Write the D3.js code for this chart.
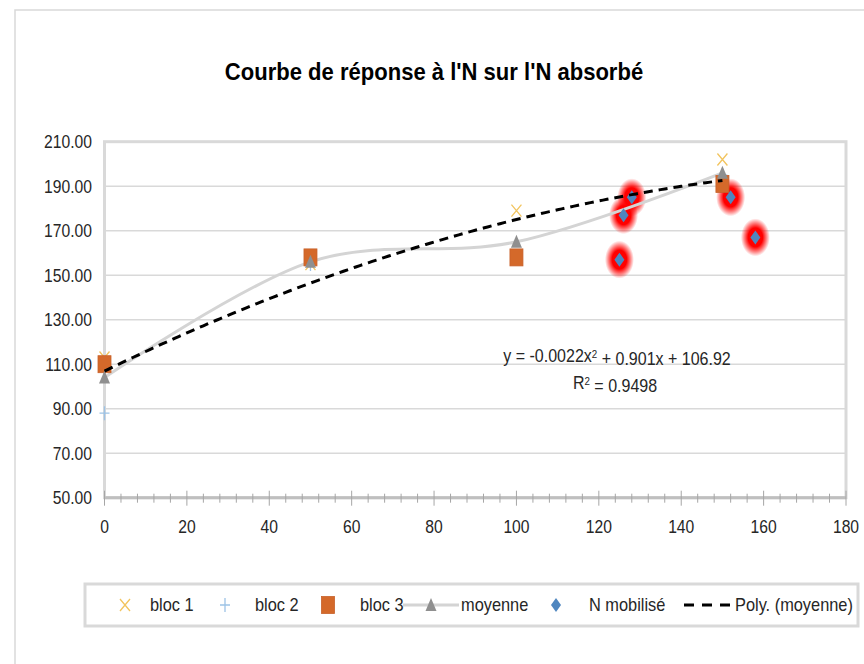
<!DOCTYPE html>
<html><head><meta charset="utf-8">
<script src="https://cdn.jsdelivr.net/npm/d3@7"></script>
<style>
html,body{margin:0;padding:0;background:#fff;}
svg{display:block;}
text{font-family:"Liberation Sans",Arial,sans-serif;fill:#262626;}
</style></head>
<body><svg id="chart" width="864" height="664"></svg>
<script>
// ---- data ----
const doses = [0, 50, 100, 150];
const bloc1 = [113, 155, 179, 202];
const bloc2 = [88, 155, 158, 195];
const bloc3 = [110, 158, 158, 191];
const moyenne = [104, 156, 165, 196];
const nMobX = [125, 126, 128, 152, 158];
const nMobY = [157, 177, 185, 185, 167];
const polyCoef = [-0.0022, 0.901, 106.92];
const yTicks = [50, 70, 90, 110, 130, 150, 170, 190, 210];
const xTicks = [0, 20, 40, 60, 80, 100, 120, 140, 160, 180];
const title = "Courbe de réponse à l'N sur l'N absorbé";
const legendLabels = ["bloc 1", "bloc 2", "bloc 3", "moyenne", "N mobilisé", "Poly. (moyenne)"];

const svg = d3.select("#chart");
const x = d3.scaleLinear().domain([0, 180]).range([104.5, 846]);
const y = d3.scaleLinear().domain([50, 210]).range([497.7, 141.7]);

function txt(g, tx, ty, str, size, anchor, sx) {
  return g.append("text").attr("transform", `translate(${tx},${ty}) scale(${sx},1)`)
    .attr("text-anchor", anchor).attr("dy", "0.35em").style("font-size", size + "px").text(str);
}

// defs
const defs = svg.append("defs");
const rg = defs.append("radialGradient").attr("id", "glowGrad");
rg.append("stop").attr("offset", "0%").attr("stop-color", "#FF0000").attr("stop-opacity", 1);
rg.append("stop").attr("offset", "50%").attr("stop-color", "#FF0000").attr("stop-opacity", 1);
rg.append("stop").attr("offset", "78%").attr("stop-color", "#FF0000").attr("stop-opacity", 0.45);
rg.append("stop").attr("offset", "100%").attr("stop-color", "#FF0000").attr("stop-opacity", 0);

// outer frame
svg.append("rect").attr("x", 15).attr("y", 10).attr("width", 900).attr("height", 700)
  .attr("fill", "#fff").attr("stroke", "#D9D9D9").attr("stroke-width", 1.5);

// title
txt(svg, 434, 71, title, 24.5, "middle", 0.9).style("font-weight", "bold").style("fill", "#000");

// gridlines
svg.append("g").selectAll("line").data(yTicks.slice(1, -1)).join("line")
  .attr("x1", x(0)).attr("x2", x(180)).attr("y1", d => y(d)).attr("y2", d => y(d))
  .attr("stroke", "#D9D9D9").attr("stroke-width", 1.5);
// plot border
svg.append("rect").attr("x", x(0)).attr("y", y(210)).attr("width", x(180) - x(0)).attr("height", y(50) - y(210))
  .attr("fill", "none").attr("stroke", "#D9D9D9").attr("stroke-width", 3);

// y labels
const gy = svg.append("g");
yTicks.forEach(d => txt(gy, 92, y(d), d3.format(".2f")(d), 18, "end", 0.87));

// x axis
const xAxis = svg.append("g");
xAxis.append("line").attr("x1", x(0)).attr("x2", x(180)).attr("y1", y(50)).attr("y2", y(50))
  .attr("stroke", "#BFBFBF").attr("stroke-width", 3);
const minor = d3.range(0, 181, 4);
xAxis.selectAll("line.mi").data(minor).join("line").attr("class", "mi")
  .attr("x1", d => x(d)).attr("x2", d => x(d))
  .attr("y1", d => y(50) - (d % 20 === 0 ? 7 : 4)).attr("y2", d => y(50) + (d % 20 === 0 ? 8 : 5))
  .attr("stroke", "#A6A6A6").attr("stroke-width", 1);
xTicks.forEach(d => txt(xAxis, x(d), 527, String(d), 18, "middle", 0.87));

// glow for N mobilisé
const nPts = nMobX.map((d, i) => [d, nMobY[i]]);
svg.append("g").selectAll("ellipse").data(nPts).join("ellipse")
  .attr("cx", d => x(d[0])).attr("cy", d => y(d[1])).attr("rx", 14.5).attr("ry", 19)
  .attr("fill", "url(#glowGrad)");

// moyenne smooth line
const mPts = doses.map((d, i) => [d, moyenne[i]]);
svg.append("path").datum(mPts)
  .attr("d", d3.line().x(d => x(d[0])).y(d => y(d[1])).curve(d3.curveCardinal.tension(0)))
  .attr("fill", "none").attr("stroke", "#D4D4D4").attr("stroke-width", 3);

// marker helpers
function xMark(g, cx, cy) {
  g.append("path").attr("d", `M${cx - 5},${cy - 6}L${cx + 5},${cy + 6}M${cx + 5},${cy - 6}L${cx - 5},${cy + 6}`)
    .attr("stroke", "#F2C45E").attr("stroke-width", 1.3).attr("fill", "none");
}
function plusMark(g, cx, cy) {
  g.append("path").attr("d", `M${cx - 5},${cy}L${cx + 5},${cy}M${cx},${cy - 7}L${cx},${cy + 7}`)
    .attr("stroke", "#9DC3E6").attr("stroke-width", 1.3).attr("fill", "none");
}
function squareMark(g, cx, cy) {
  g.append("rect").attr("x", cx - 6.5).attr("y", cy - 8.5).attr("width", 13).attr("height", 17)
    .attr("fill", "#D4692A").attr("stroke", "#C8612A").attr("stroke-width", 0.8);
}
function triMark(g, cx, cy) {
  g.append("path").attr("d", `M${cx},${cy - 7}L${cx + 5.5},${cy + 6}L${cx - 5.5},${cy + 6}Z`).attr("fill", "#8F8F8F");
}
function diaMark(g, cx, cy) {
  g.append("path").attr("d", `M${cx},${cy - 7}L${cx + 5},${cy}L${cx},${cy + 7}L${cx - 5},${cy}Z`).attr("fill", "#4F86BF");
}

const gm = svg.append("g");
doses.forEach((d, i) => xMark(gm, x(d), y(bloc1[i])));
doses.forEach((d, i) => plusMark(gm, x(d), y(bloc2[i])));
doses.forEach((d, i) => squareMark(gm, x(d), y(bloc3[i])));
doses.forEach((d, i) => triMark(gm, x(d), y(moyenne[i])));
nPts.forEach(d => diaMark(gm, x(d[0]), y(d[1])));

// polynomial trendline
const polyX = d3.range(0, 150.01, 1);
svg.append("path").datum(polyX)
  .attr("d", d3.line().x(d => x(d)).y(d => y(polyCoef[0] * d * d + polyCoef[1] * d + polyCoef[2])))
  .attr("fill", "none").attr("stroke", "#000").attr("stroke-width", 3).attr("stroke-dasharray", "9,6");

// equation
const eq = txt(svg, 617, 356, "", 18, "middle", 0.89);
eq.append("tspan").text("y = -0.0022x");
eq.append("tspan").attr("dy", "-0.35em").style("font-size", "11px").text("2");
eq.append("tspan").attr("dy", "0.35em").text(" + 0.901x + 106.92");
const r2 = txt(svg, 615, 383, "", 18, "middle", 0.89);
r2.append("tspan").text("R");
r2.append("tspan").attr("dy", "-0.35em").style("font-size", "11px").text("2");
r2.append("tspan").attr("dy", "0.35em").text(" = 0.9498");

// legend
svg.append("rect").attr("x", 85).attr("y", 584).attr("width", 773).attr("height", 42)
  .attr("fill", "#fff").attr("stroke", "#D9D9D9").attr("stroke-width", 3);
const ly = 605;
const lg = svg.append("g");
xMark(lg, 125, ly);
plusMark(lg, 225, ly);
squareMark(lg, 328, ly);
lg.append("line").attr("x1", 403).attr("x2", 459).attr("y1", ly).attr("y2", ly).attr("stroke", "#D4D4D4").attr("stroke-width", 3);
triMark(lg, 431, ly);
diaMark(lg, 556, ly);
lg.append("line").attr("x1", 684).attr("x2", 731).attr("y1", ly).attr("y2", ly).attr("stroke", "#000").attr("stroke-width", 3).attr("stroke-dasharray", "10,8");
const lx = [150, 255, 360, 461, 589, 735];
legendLabels.forEach((d, i) => txt(lg, lx[i], ly, d, 18, "start", 0.91));
</script>
</body></html>
